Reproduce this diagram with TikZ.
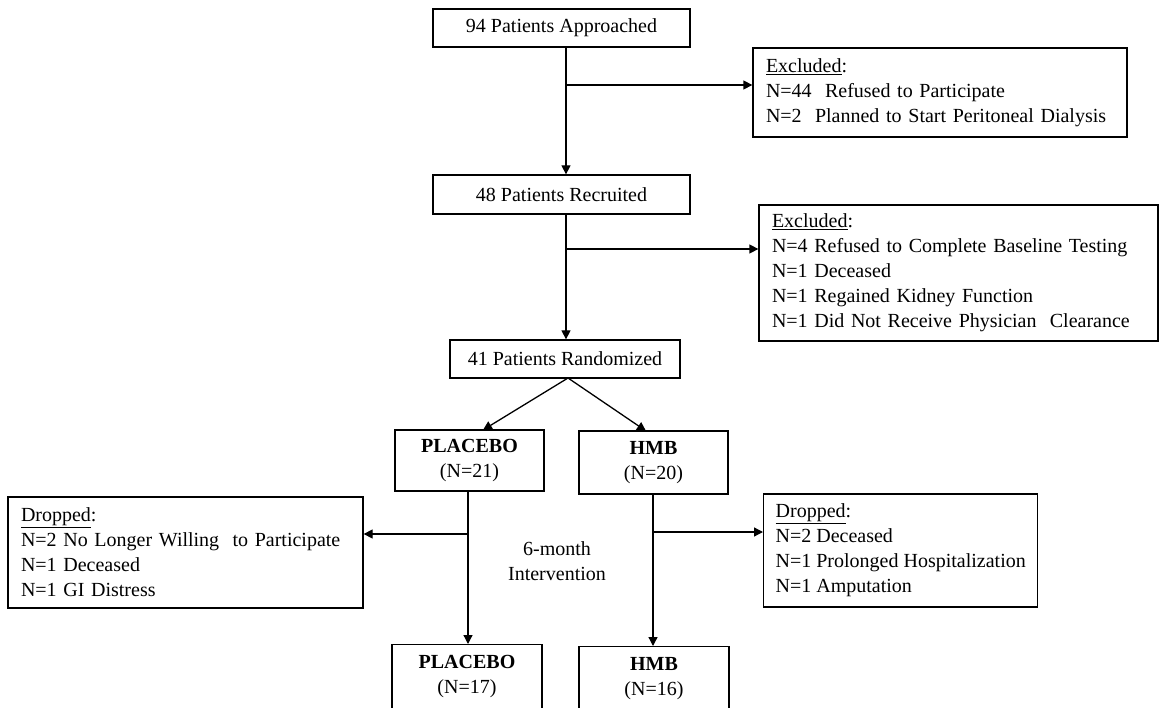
\documentclass[tikz,border=0pt]{standalone}
\usepackage{fontspec}
\setmainfont{Liberation Serif}
\usetikzlibrary{arrows.meta}
\hyphenpenalty=10000
\exhyphenpenalty=10000
\begin{document}
\begin{tikzpicture}[x=1pt,y=-1pt,
  font=\fontsize{20}{25}\selectfont,
  box/.style={draw=black, line width=1.3pt, inner sep=0pt, align=center},
  lbox/.style={draw=black, line width=1.3pt, inner ysep=0pt, inner xsep=13pt, align=left},
  arr/.style={line width=1.3pt, -{Triangle[length=9pt,width=9pt]}}]
\useasboundingbox (0,0) rectangle (1162,708);
\clip (0,0) rectangle (1162,708);

\node[box, minimum width=257pt, minimum height=38pt] (A) at (561.5,28) {94 Patients Approached};
\node[box, minimum width=257pt, minimum height=39pt] (B) at (561.5,194.5) {48 Patients Recruited};
\node[box, minimum width=230pt, minimum height=38pt] (C) at (565,359) {41 Patients Randomized};

\node[lbox, text width=348pt, minimum height=89pt] (E1) at (940,92.5)
  {\underline{Excluded}:\\N=44~ Refused to Participate\\N=2~ Planned to Start Peritoneal Dialysis};
\node[lbox, text width=373pt, minimum height=136pt] (E2) at (958.5,273)
  {\underline{Excluded}:\\N=4 Refused to Complete Baseline Testing\\N=1 Deceased\\N=1 Regained Kidney Function\\N=1 Did Not Receive Physician~ Clearance};

\node[box, minimum width=149pt, minimum height=61pt] (P1) at (469.5,460.5) {\textbf{PLACEBO}\\(N=21)};
\node[box, minimum width=149pt, minimum height=63pt] (H1) at (653.5,462.5) {\textbf{HMB}\\(N=20)};

\node[lbox, text width=329pt, minimum height=111pt] (DL) at (185.5,552.5)
  {\underline{Dropped}:\\N=2 No Longer Willing~ to Participate\\N=1 Deceased\\N=1 GI Distress};
\node[lbox, inner xsep=12pt, minimum width=247pt, minimum height=113pt, anchor=west] (DR) at (763,550.5)
  {\underline{Dropped}:\\N=2 Deceased\\N=1 Prolonged Hospitalization\\N=1 Amputation};

\node[align=center, inner sep=0pt] (IV) at (557,561) {6-month\\Intervention};

\node[box, minimum width=150pt, minimum height=76pt, anchor=north] (P2) at (467,644)
  {\textbf{PLACEBO}\\(N=17)\rule[-16pt]{0pt}{0pt}};
\node[box, minimum width=150pt, minimum height=76pt, anchor=north] (H2) at (654,646)
  {\textbf{HMB}\\(N=16)\rule[-16pt]{0pt}{0pt}};

% coordinates for connector routes
\coordinate (x1) at (566,85);
\coordinate (x2) at (566,249);
\coordinate (cb) at (568,378);
\coordinate (pt) at (483,430);
\coordinate (ht) at (646,431);
\coordinate (x3) at (468,534);
\coordinate (x4) at (653,532);

\draw[arr] (A.south -| x1) -- (B.north -| x1);
\draw[arr] (x1) -- (E1.west |- x1);
\draw[arr] (B.south -| x2) -- (C.north -| x2);
\draw[arr] (x2) -- (E2.west |- x2);
\draw[arr] (cb) -- (pt);
\draw[arr] (cb) -- (ht);
\draw[arr] (P1.south -| x3) -- (P2.north -| x3);
\draw[arr] (x3) -- (DL.east |- x3);
\draw[arr] (H1.south -| x4) -- (H2.north -| x4);
\draw[arr] (x4) -- (DR.west |- x4);
\end{tikzpicture}
\end{document}
